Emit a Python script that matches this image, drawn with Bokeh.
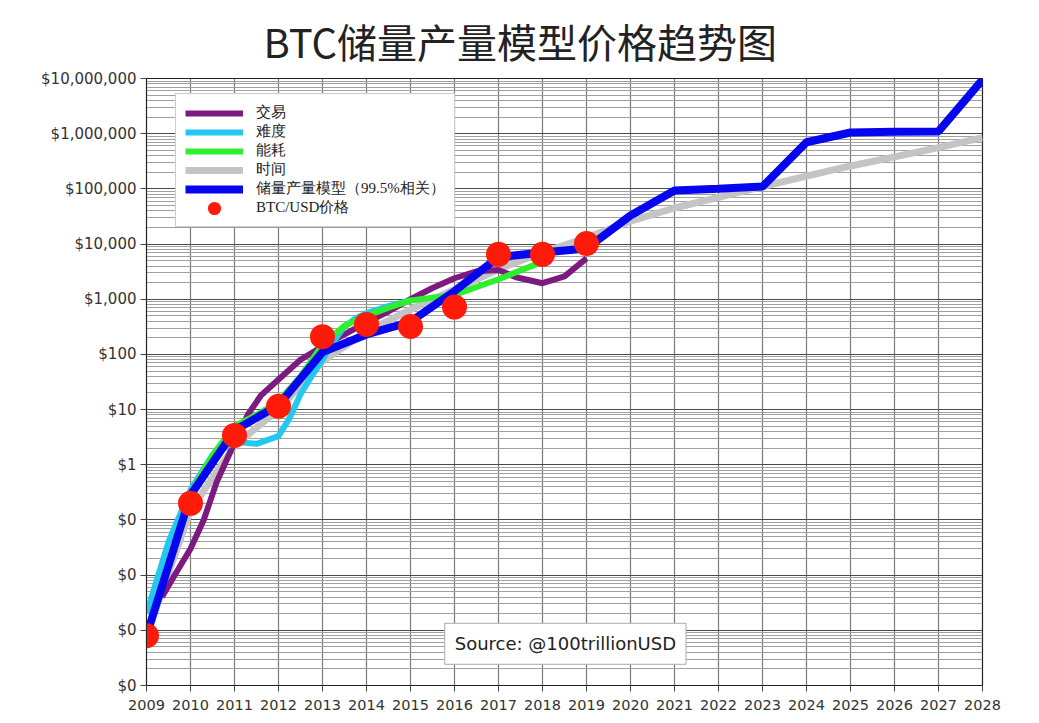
from bokeh.plotting import figure
from bokeh.models import (FixedTicker, CustomJSTickFormatter, Range1d, Legend, LegendItem,
                          Label, Title)
from bokeh.embed import file_html
from bokeh.resources import INLINE

# ---------------- data ----------------
title_text = "BTC储量产量模型价格趋势图"

model_years = [2009, 2010, 2011, 2012, 2013, 2014, 2015, 2016, 2017, 2018, 2019,
               2020, 2021, 2022, 2023, 2024, 2025, 2026, 2027, 2028]
s2f_model = [0.0008, 0.28, 4.2, 12, 110, 230, 390, 1400, 5800, 7000, 8300,
             33000, 93000, 100000, 110000, 700000, 1050000, 1080000, 1100000, 9500000]
time_model = [0.0008, 0.15, 2.2, 10, 75, 260, 650, 1500, 3500, 7000, 13000,
              26000, 45000, 70000, 110000, 170000, 260000, 380000, 560000, 850000]

tx_years = [2009.35, 2009.7, 2010.0, 2010.3, 2010.6, 2011.0, 2011.3, 2011.6, 2012.0, 2012.5,
            2013.0, 2013.5, 2014.0, 2014.5, 2015.0, 2015.5, 2016.0, 2016.5, 2017.0, 2017.4,
            2018.0, 2018.5, 2019.0]
tx_model = [0.004, 0.012, 0.03, 0.1, 0.5, 2.5, 8, 18, 35, 80,
            140, 230, 380, 600, 1000, 1600, 2400, 3200, 3400, 2500,
            1950, 2600, 5500]

diff_years = [2009.0, 2009.5, 2010.0, 2010.5, 2011.0, 2011.5, 2012.0, 2012.25, 2012.5, 2012.75,
              2013.0, 2013.25, 2013.5, 2013.75, 2014.0, 2014.5, 2015.0]
diff_model = [0.002, 0.04, 0.35, 1.5, 2.6, 2.4, 3.3, 7, 19, 40,
              80, 170, 320, 450, 560, 750, 950]

energy_years = [2010.0, 2010.5, 2011.0, 2011.5, 2012.0, 2012.5, 2013.0, 2013.5, 2014.0, 2014.5,
                2015.0, 2016.0, 2017.0, 2018.0]
energy_model = [0.3, 1.5, 5, 8, 14, 40, 150, 330, 500, 700,
                950, 1200, 2300, 4800]

price_years = [2009, 2010, 2011, 2012, 2013, 2014, 2015, 2016, 2017, 2018, 2019]
btc_price = [0.0008, 0.2, 3.4, 11.5, 210, 350, 320, 720, 6500, 6500, 10200]

x_ticks = list(range(2009, 2029))
y_ticks = [1e-4, 1e-3, 1e-2, 1e-1, 1, 10, 100, 1e3, 1e4, 1e5, 1e6, 1e7]
y_minor = [m * 10.0 ** e for e in range(-4, 7) for m in range(2, 10)]

labels = ["交易", "难度", "能耗", "时间", "储量产量模型（99.5%相关）", "BTC/USD价格"]
source_text = "Source: @100trillionUSD"

# ---------------- figure ----------------
p = figure(width=1031, height=723, y_axis_type="log", output_backend="svg",
           toolbar_location=None, x_range=Range1d(2009, 2028), y_range=Range1d(1e-4, 1e7),
           min_border_left=146, min_border_right=49, min_border_top=78, min_border_bottom=38)

p.title = Title(text=title_text, align="left", offset=117, text_font="Noto Sans CJK SC",
                text_font_size="40px", text_font_style="normal", text_color="#222222", standoff=18)

p.xaxis.ticker = FixedTicker(ticks=x_ticks)
p.yaxis.ticker = FixedTicker(ticks=y_ticks, minor_ticks=y_minor)
p.yaxis.formatter = CustomJSTickFormatter(code="return '$' + Math.round(tick).toLocaleString('en-US');")
p.xaxis.formatter = CustomJSTickFormatter(code="return String(Math.round(tick));")

for ax in (p.xaxis, p.yaxis):
    ax.major_label_text_font = "DejaVu Sans"
    ax.major_label_text_color = "#333333"
    ax.axis_line_color = "#222222"
    ax.major_tick_line_color = "#444444"
    ax.major_tick_out = 6
    ax.major_tick_in = 0
    ax.minor_tick_out = 0
    ax.minor_tick_in = 0
p.xaxis.major_label_text_font_size = "14.5px"
p.yaxis.major_label_text_font_size = "15px"
p.yaxis.major_label_standoff = 4
p.xaxis.major_label_standoff = 8

p.xgrid.grid_line_color = "#7a7a7a"
p.xgrid.grid_line_width = 1.2
p.ygrid.grid_line_color = "#4a4a4a"
p.ygrid.grid_line_width = 1.2
p.ygrid.minor_grid_line_color = "#a0a0a0"
p.ygrid.minor_grid_line_width = 1
p.outline_line_color = "#222222"
p.outline_line_width = 1.2

r_time = p.line(model_years, time_model, line_color="#c4c4c4", line_width=7)
r_tx = p.line(tx_years, tx_model, line_color="#7d1a80", line_width=6)
r_diff = p.line(diff_years, diff_model, line_color="#22c8ef", line_width=6)
r_en = p.line(energy_years, energy_model, line_color="#2df02d", line_width=6)
r_s2f = p.line(model_years, s2f_model, line_color="#0505ee", line_width=8)
r_btc = p.scatter(price_years, btc_price, size=19, fill_color="#ff1a0a", line_color="#ff1a0a",
                  line_width=6)

legend = Legend(items=[
    LegendItem(label=labels[0], renderers=[r_tx]),
    LegendItem(label=labels[1], renderers=[r_diff]),
    LegendItem(label=labels[2], renderers=[r_en]),
    LegendItem(label=labels[3], renderers=[r_time]),
    LegendItem(label=labels[4], renderers=[r_s2f]),
    LegendItem(label=labels[5], renderers=[r_btc]),
], location=(29, 458))
legend.label_text_font = "Liberation Serif"
legend.label_text_font_size = "15px"
legend.label_text_color = "#222222"
legend.glyph_width = 58
legend.glyph_height = 18
legend.label_height = 18
legend.spacing = 0
legend.padding = 9
legend.margin = 0
legend.label_standoff = 13
legend.border_line_color = "#999999"
legend.border_line_width = 1.5
legend.background_fill_color = "white"
legend.background_fill_alpha = 1.0
p.add_layout(legend, "center")

src = Label(x=2018.52, y=5.7e-4, text=source_text, text_align="center", text_baseline="middle",
            text_font="DejaVu Sans", text_font_size="18px", text_color="#222222",
            background_fill_color="white", background_fill_alpha=1.0,
            border_line_color="#aaaaaa", border_line_width=1, padding=10)
p.add_layout(src)

open("out.html", "w").write(file_html(p, INLINE))
